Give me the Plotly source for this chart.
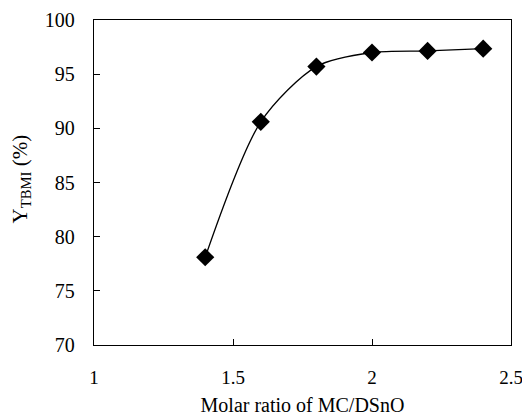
import plotly.graph_objects as go

molar_ratio = [1.4, 1.6, 1.8, 2.0, 2.2, 2.4]
yield_tbmi = [78.1, 90.6, 95.7, 97.0, 97.15, 97.35]
x_ticks = [1, 1.5, 2, 2.5]
y_ticks = [70, 75, 80, 85, 90, 95, 100]

font_family = "Liberation Serif, Times New Roman, serif"

fig = go.Figure()
fig.add_trace(go.Scatter(
    x=molar_ratio, y=yield_tbmi, mode="lines+markers",
    line=dict(color="black", width=1.3, shape="spline", smoothing=0.8),
    marker=dict(symbol="diamond", size=14, color="black"),
    showlegend=False,
))

fig.update_layout(
    width=522, height=416,
    margin=dict(l=94, r=11, t=20, b=71),
    paper_bgcolor="white", plot_bgcolor="white",
    font=dict(family=font_family, color="black", size=20),
)
fig.update_xaxes(
    range=[1, 2.5], tickvals=x_ticks, ticktext=[str(v) for v in x_ticks],
    ticks="inside", ticklen=6, tickcolor="black", tickwidth=1,
    showline=True, linecolor="black", linewidth=1.3, mirror=True,
    showgrid=False, zeroline=False, ticklabelstandoff=15, automargin=False,
    ticklabeloverflow="allow",
    title=dict(text="Molar ratio of MC/DSnO", font=dict(size=20), standoff=18),
    tickfont=dict(size=19),
)
fig.update_yaxes(
    range=[70, 100], tickvals=y_ticks,
    ticks="inside", ticklen=6, tickcolor="black", tickwidth=1,
    showline=True, linecolor="black", linewidth=1.3, mirror=True,
    showgrid=False, zeroline=False, ticklabelstandoff=14, automargin=False,
    ticklabeloverflow="allow",
    tickfont=dict(size=20),
)
fig.add_annotation(
    text="Y<sub>TBMI</sub> (%)", xref="paper", yref="paper",
    x=0, y=0.5, xanchor="center", yanchor="middle", xshift=-74, yshift=3,
    textangle=-90, showarrow=False, font=dict(size=21),
)

fig.write_html(
    "out.html",
    config={"displayModeBar": False},
    post_script="document.body.style.margin='0';document.body.style.overflow='hidden';",
)
